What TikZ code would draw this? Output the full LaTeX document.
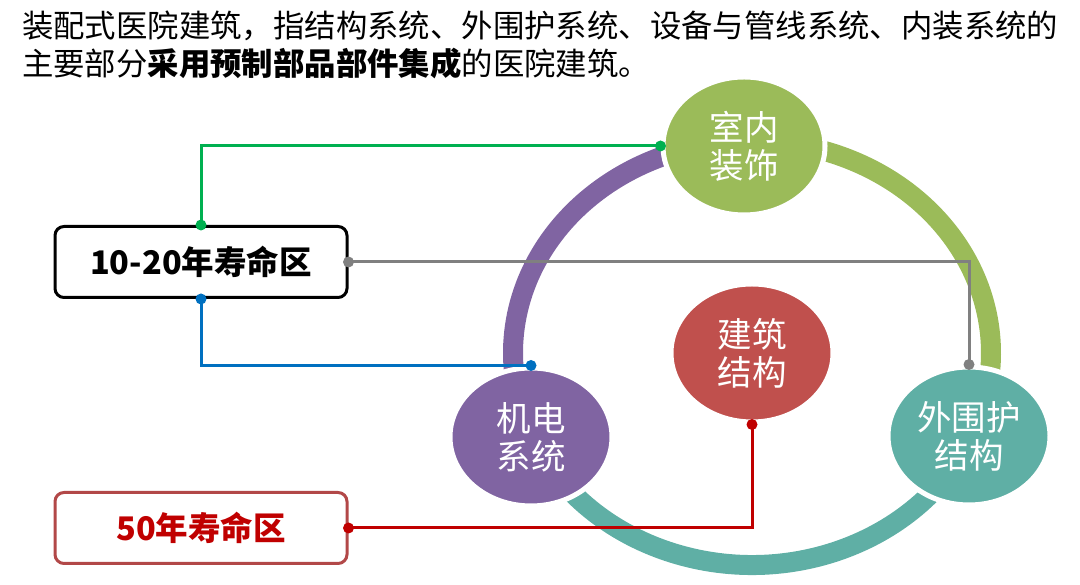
\documentclass[tikz,border=0pt]{standalone}
\usepackage{fontspec}
\setmainfont{Noto Sans CJK SC}
\usetikzlibrary{shapes.geometric}
\definecolor{ballgreen}{HTML}{9BBB59}
\definecolor{ballpurple}{HTML}{8064A2}
\definecolor{ballteal}{HTML}{5FAFA5}
\definecolor{ballred}{HTML}{C0504D}
\definecolor{linegreen}{HTML}{00B050}
\definecolor{lineblue}{HTML}{0070C0}
\definecolor{linegray}{HTML}{808080}
\definecolor{linered}{HTML}{C00000}
\definecolor{boxred}{HTML}{B24848}
\begin{document}
\begin{tikzpicture}[x=1pt,y=1pt,
	ring/.style={line width=20pt},
	ball/.style={ellipse, draw=white, line width=5pt, minimum width=162pt, minimum height=138pt, inner sep=0pt, align=center, text=white, font=\fontsize{34.5}{38}\selectfont},
	zonebox/.style={draw, fill=white, rounded corners=9pt, line width=3pt, minimum width=292pt, minimum height=71pt, font=\fontsize{32.5}{36}\selectfont\bfseries},
	link/.style={line width=3pt}]
	\useasboundingbox (0,0) rectangle (1080,585);
	\node[anchor=north west, inner sep=0pt, align=left, font=\fontsize{31.4}{38}\selectfont] (intro) at (22,574) {装配式医院建筑，指结构系统、外围护系统、设备与管线系统、内装系统的\\主要部分\textbf{采用预制部品部件集成}的医院建筑。};
	% ring
	\coordinate (hub) at (752,232);
	\draw[ring, ballpurple] (hub) ++(92:239 and 212) arc[start angle=92, end angle=203, x radius=239, y radius=212];
	\draw[ring, ballgreen] (hub) ++(-23:239 and 212) arc[start angle=-23, end angle=92, x radius=239, y radius=212];
	\draw[ring, ballteal] (hub) ++(203:239 and 212) arc[start angle=203, end angle=337, x radius=239, y radius=212];
	% balls
	\node[ball, fill=ballgreen] (decor) at (744,439) {室内\\装饰};
	\node[ball, fill=ballpurple] (services) at (531,148) {机电\\系统};
	\node[ball, fill=ballteal] (envelope) at (969,149) {外围护\\结构};
	\node[ball, fill=ballred] (frame) at (hub) {建筑\\结构};
	% life zones
	\node[zonebox] (decade) at (201,323) {10-20年寿命区};
	\node[zonebox, draw=boxred, text=linered] (halfcentury) at (201,57) {50年寿命区};
	% links
	\draw[link, linegreen] (decade.north) |- (decor.west);
	\draw[link, linegray] (decade.east) -| (envelope.north);
	\draw[link, lineblue] (decade.south) |- (services.north);
	\draw[link, linered] (halfcentury.east) -| (frame.south);
	\fill[linegreen] (decade.north) circle (5.5) (decor.west) circle (5.5);
	\fill[linegray] (decade.east) circle (5.5) (envelope.north) circle (5.5);
	\fill[lineblue] (decade.south) circle (5.5) (services.north) circle (5.5);
	\fill[linered] (halfcentury.east) circle (5.5) (frame.south) circle (5.5);
\end{tikzpicture}
\end{document}
